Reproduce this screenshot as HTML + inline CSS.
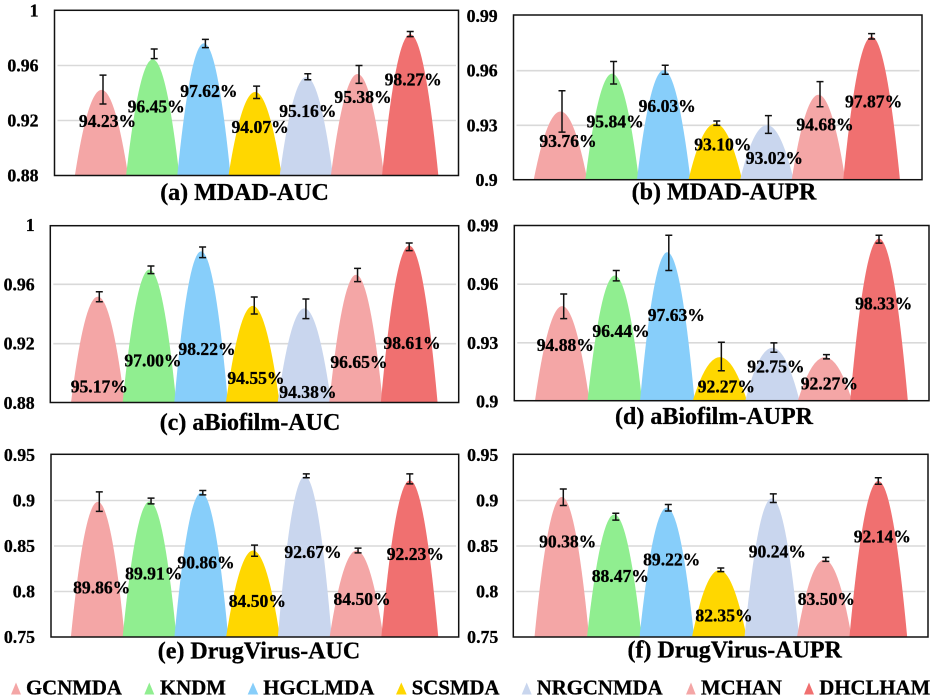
<!DOCTYPE html>
<html lang="en">
<head>
<meta charset="utf-8">
<title>Model comparison charts</title>
<style>
  html, body { margin: 0; padding: 0; background: #fff; }
  #figure { display: block; width: 935px; height: 699px; }
  text { font-family: "Liberation Serif", serif; font-weight: bold; fill: #000; stroke: #000; stroke-width: 0.3px; }
</style>
</head>
<body>
<svg id="figure" xmlns="http://www.w3.org/2000/svg" width="935" height="699" viewBox="0 0 935 699">
  <rect x="0" y="0" width="935" height="699" fill="#fff"/>
  <g id="panels"></g>
  <g font-size="20.8">
    <g>
      <polygon points="11,694.5 16,682.5 21,694.5" fill="#f4a6a6"/>
      <text x="26" y="694.3" font-size="20.8">GCNMDA</text>
    </g>
    <g>
      <polygon points="144.3,694.5 149.3,682.5 154.3,694.5" fill="#90ee90"/>
      <text x="160" y="694.3" font-size="20.8">KNDM</text>
    </g>
    <g>
      <polygon points="247.7,694.5 253,682.5 258.3,694.5" fill="#87cefa"/>
      <text x="263.3" y="694.3" font-size="20.8">HGCLMDA</text>
    </g>
    <g>
      <polygon points="396,694.5 401.3,682.5 406.7,694.5" fill="#ffd700"/>
      <text x="411.7" y="694.3" font-size="20.8">SCSMDA</text>
    </g>
    <g>
      <polygon points="521.7,694.5 526.7,682.5 531.7,694.5" fill="#c9d6ee"/>
      <text x="536.7" y="694.3" font-size="20.8">NRGCNMDA</text>
    </g>
    <g>
      <polygon points="686,694.5 691,682.5 695.7,694.5" fill="#f4a6a6"/>
      <text x="701" y="694.3" font-size="20.8">MCHAN</text>
    </g>
    <g>
      <polygon points="804,694.5 809,682.5 814,694.5" fill="#f07070"/>
      <text x="819.3" y="694.3" font-size="20.8">DHCLHAM</text>
    </g>
  </g>
</svg>
<script>
// ---- Data ----
const models = ['GCNMDA', 'KNDM', 'HGCLMDA', 'SCSMDA', 'NRGCNMDA', 'MCHAN', 'DHCLHAM'];

const mdadAucValues = [94.23, 96.45, 97.62, 94.07, 95.16, 95.38, 98.27];
const mdadAucErrLow = [0.932, 0.965, 0.973, 0.936, 0.9496, 0.947, 0.981];
const mdadAucErrHigh = [0.953, 0.972, 0.979, 0.945, 0.954, 0.960, 0.9847];
const mdadAucTicks = ['0.88', '0.92', '0.96', '1'];

const mdadAuprValues = [93.76, 95.84, 96.03, 93.10, 93.02, 94.68, 97.87];
const mdadAuprErrLow = [0.9263, 0.9527, 0.958, 0.93, 0.9256, 0.9402, 0.9774];
const mdadAuprErrHigh = [0.949, 0.965, 0.963, 0.9324, 0.9353, 0.954, 0.9803];
const mdadAuprTicks = ['0.9', '0.93', '0.96', '0.99'];

const biofilmAucValues = [95.17, 97.00, 98.22, 94.55, 94.38, 96.65, 98.61];
const biofilmAucErrLow = [0.9483, 0.9672, 0.978, 0.94, 0.9369, 0.9618, 0.9827];
const biofilmAucErrHigh = [0.955, 0.9724, 0.9852, 0.9515, 0.9501, 0.9708, 0.9879];
const biofilmAucTicks = ['0.88', '0.92', '0.96', '1'];

const biofilmAuprValues = [94.88, 96.44, 97.63, 92.27, 92.75, 92.27, 98.33];
const biofilmAuprErrLow = [0.9424, 0.9617, 0.967, 0.9157, 0.9252, 0.9218, 0.981];
const biofilmAuprErrHigh = [0.955, 0.967, 0.985, 0.9303, 0.93, 0.924, 0.985];
const biofilmAuprTicks = ['0.9', '0.93', '0.96', '0.99'];

const drugVirusAucValues = [89.86, 89.91, 90.86, 84.50, 92.67, 84.50, 92.23];
const drugVirusAucErrLow = [0.888, 0.8963, 0.9062, 0.8388, 0.925, 0.8425, 0.9183];
const drugVirusAucErrHigh = [0.9095, 0.9026, 0.911, 0.851, 0.9293, 0.8476, 0.9293];
const drugVirusAucTicks = ['0.75', '0.8', '0.85', '0.9', '0.95'];

const drugVirusAuprValues = [90.38, 88.47, 89.22, 82.35, 90.24, 83.50, 92.14];
const drugVirusAuprErrLow = [0.8945, 0.8785, 0.8884, 0.8218, 0.8978, 0.8331, 0.9178];
const drugVirusAuprErrHigh = [0.9127, 0.886, 0.8956, 0.8258, 0.9073, 0.8375, 0.925];
const drugVirusAuprTicks = ['0.75', '0.8', '0.85', '0.9', '0.95'];

// ---- Styling and layout (not data) ----
const modelColors = ['#f4a6a6', '#90ee90', '#87cefa', '#ffd700', '#c9d6ee', '#f4a6a6', '#f07070'];

const panels = [
  { key: 'mdad-auc', title: '(a) MDAD-AUC', values: mdadAucValues, low: mdadAucErrLow, high: mdadAucErrHigh, ticks: mdadAucTicks,
    box: [54.5, 10.3, 458.5, 175.5], plotTop: 10.5, plotBottom: 175.5, firstX: 103, stepX: 51.2, tickRight: 38.5, titleX: 244.5, titleY: 200,
    labelDrop: [37, 53, 54, 41, 40, 29, 51], labelShift: [4.5, 2, 3.5, 3.5, 0, 4, 3] },
  { key: 'mdad-aupr', title: '(b) MDAD-AUPR', values: mdadAuprValues, low: mdadAuprErrLow, high: mdadAuprErrHigh, ticks: mdadAuprTicks,
    box: [513.5, 15, 922, 179.7], plotTop: 16, plotBottom: 180, firstX: 562, stepX: 51.6, tickRight: 497.7, titleX: 724, titleY: 199.5,
    labelDrop: [35.5, 54, 42, 27, 39, 36, 71], labelShift: [6, 1.5, 2, 6, 6, 5, 2] },
  { key: 'biofilm-auc', title: '(c) aBiofilm-AUC', values: biofilmAucValues, low: biofilmAucErrLow, high: biofilmAucErrHigh, ticks: biofilmAucTicks,
    box: [50.3, 225.7, 458.7, 402.5], plotTop: 225, plotBottom: 403, firstX: 99.3, stepX: 51.65, tickRight: 34.7, titleX: 250, titleY: 430,
    labelDrop: [96, 97, 103.6, 78, 89.6, 93.3, 103.5], labelShift: [0, 2, 4.4, 1.7, 2, 1.4, 2.8] },
  { key: 'biofilm-aupr', title: '(d) aBiofilm-AUPR', values: biofilmAuprValues, low: biofilmAuprErrLow, high: biofilmAuprErrHigh, ticks: biofilmAuprTicks,
    box: [514.3, 225.5, 929, 400.7], plotTop: 225.5, plotBottom: 401.5, firstX: 563.7, stepX: 52.55, tickRight: 498.3, titleX: 714, titleY: 424,
    labelDrop: [44.7, 61.2, 68.8, 35.6, 25, 32.2, 70.7], labelShift: [1.6, 4.75, 7.5, 5, 2, 2.9, 4.7] },
  { key: 'drugvirus-auc', title: '(e) DrugVirus-AUC', values: drugVirusAucValues, low: drugVirusAucErrLow, high: drugVirusAucErrHigh, ticks: drugVirusAucTicks,
    box: [51, 454.3, 458.7, 637], plotTop: 455, plotBottom: 637, firstX: 99.3, stepX: 51.75, tickRight: 35, titleX: 259, titleY: 658.5,
    labelDrop: [91.9, 78, 76, 56.5, 82, 54.5, 79.8], labelShift: [2.4, 2.7, 3.2, 2.8, 6.7, 4, 5.5] },
  { key: 'drugvirus-aupr', title: '(f) DrugVirus-AUPR', values: drugVirusAuprValues, low: drugVirusAuprErrLow, high: drugVirusAuprErrHigh, ticks: drugVirusAuprTicks,
    box: [513.3, 454.3, 928, 637], plotTop: 455, plotBottom: 637, firstX: 563.3, stepX: 52.5, tickRight: 498.3, titleX: 734.7, titleY: 657.5,
    labelDrop: [50.7, 67.6, 57.7, 51.2, 59.4, 45.4, 61.4], labelShift: [4.4, 4.5, 3.4, 3.2, 4, 0.5, 4] }
];

const SVG_NS = 'http://www.w3.org/2000/svg';

function svgEl(tag, attrs, parent) {
  const node = document.createElementNS(SVG_NS, tag);
  Object.keys(attrs).forEach(function (k) { node.setAttribute(k, attrs[k]); });
  parent.appendChild(node);
  return node;
}

function drawPanel(p, root) {
  const tickValues = p.ticks.map(Number);
  const yMin = tickValues[0];
  const yMax = tickValues[tickValues.length - 1];
  const yScale = function (v) {
    return p.plotBottom - (v - yMin) / (yMax - yMin) * (p.plotBottom - p.plotTop);
  };
  const xScale = function (i) { return p.firstX + p.stepX * i; };

  const g = svgEl('g', {}, root);
  
  

  // gridlines (interior ticks)
  tickValues.forEach(function (t, i) {
    if (i === 0 || i === tickValues.length - 1) return;
    const line = svgEl('line', { x1: p.box[0] + 3, x2: p.box[2] - 2.5, y1: yScale(t), y2: yScale(t), stroke: '#d9d9d9', 'stroke-width': 1.6 }, g);
    
    
  });

  // tick labels
  p.ticks.forEach(function (label, i) {
    const tick = svgEl('text', { x: p.tickRight, y: yScale(tickValues[i]) + 6, 'text-anchor': 'end', 'font-size': 17.8 }, g);
    tick.textContent = label;
    
    
  });

  // humps: parabola from the baseline to the value
  p.values.forEach(function (val, i) {
    const isLast = i === p.values.length - 1;
    const cx = xScale(i) - (isLast ? 0 : 1.5);
    const halfW = p.stepX * (isLast ? 0.55 : 0.52);
    const base = p.plotBottom;
    const peak = yScale(val / 100);
    const d = 'M' + (cx - halfW) + ' ' + base + ' Q' + cx + ' ' + (2 * peak - base) + ' ' + (cx + halfW) + ' ' + base + ' Z';
    const hump = svgEl('path', { d: d, fill: modelColors[i] }, g);
    
    
  });

  // frame
  const frame = svgEl('rect', { x: p.box[0], y: p.box[1], width: p.box[2] - p.box[0], height: p.box[3] - p.box[1], fill: 'none', stroke: '#111', 'stroke-width': 1.5 }, g);
  
  

  // error bars
  p.values.forEach(function (val, i) {
    const cx = xScale(i);
    const yHigh = yScale(p.high[i]);
    const yLow = yScale(p.low[i]);
    const d = 'M' + cx + ' ' + yHigh + ' V' + yLow +
      ' M' + (cx - 3.5) + ' ' + yHigh + ' H' + (cx + 3.5) +
      ' M' + (cx - 3.5) + ' ' + yLow + ' H' + (cx + 3.5);
    const bar = svgEl('path', { d: d, fill: 'none', stroke: '#111', 'stroke-width': 1.5 }, g);
    
    
  });

  // value labels
  p.values.forEach(function (val, i) {
    const label = svgEl('text', { x: xScale(i) + p.labelShift[i], y: yScale(val / 100) + p.labelDrop[i], 'text-anchor': 'middle', 'font-size': 17.6 }, g);
    label.textContent = val.toFixed(2) + '%';
    
    
  });

  // panel title
  const title = svgEl('text', { x: p.titleX, y: p.titleY, 'text-anchor': 'middle', 'font-size': 24 }, g);
  title.textContent = p.title;
  
  
}

const panelRoot = document.getElementById('panels');
panels.forEach(function (p) { drawPanel(p, panelRoot); });
</script>
</body>
</html>
